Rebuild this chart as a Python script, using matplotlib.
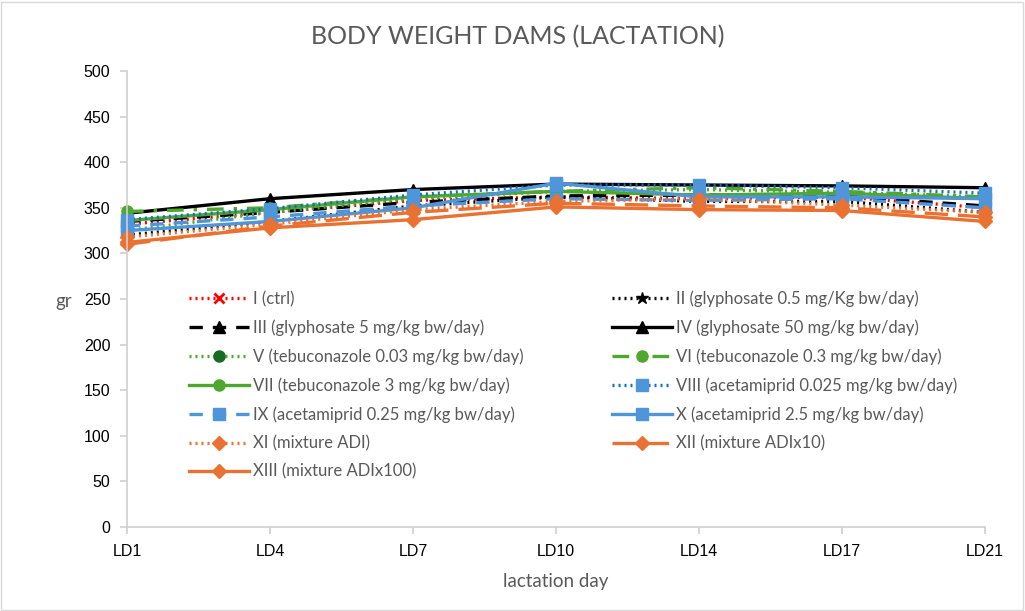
"""Body weight of dams over lactation, one line per treatment group."""
import matplotlib
matplotlib.use("Agg")
import matplotlib.pyplot as plt
from matplotlib.patches import Rectangle

plt.rcParams["font.family"] = ["Liberation Sans", "DejaVu Sans"]

days = ["LD1", "LD4", "LD7", "LD10", "LD14", "LD17", "LD21"]

labels = [
    "I (ctrl)",
    "II (glyphosate 0.5 mg/Kg bw/day)",
    "III (glyphosate 5 mg/kg bw/day)",
    "IV (glyphosate 50 mg/kg bw/day)",
    "V (tebuconazole 0.03 mg/kg bw/day)",
    "VI (tebuconazole 0.3 mg/kg bw/day)",
    "VII (tebuconazole 3 mg/kg bw/day)",
    "VIII (acetamiprid 0.025 mg/kg bw/day)",
    "IX (acetamiprid 0.25 mg/kg bw/day)",
    "X (acetamiprid 2.5 mg/kg bw/day)",
    "XI (mixture ADI)",
    "XII (mixture ADIx10)",
    "XIII (mixture ADIx100)",
]

# weights (gr)
g1 = [332, 345, 358, 362, 360, 362, 350]
g2 = [320, 335, 352, 362, 357, 357, 345]
g3 = [335, 345, 356, 363, 364, 363, 352]
g4 = [344, 360, 370, 376, 375, 374, 372]
g5 = [325, 345, 360, 368, 370, 367, 362]
g6 = [346, 350, 362, 368, 372, 368, 362]
g7 = [336, 348, 362, 368, 364, 366, 360]
g8 = [337, 349, 364, 375, 375, 372, 366]
g9 = [330, 340, 352, 360, 358, 360, 350]
g10 = [325, 335, 350, 377, 362, 362, 360]
g11 = [318, 332, 348, 357, 360, 353, 345]
g12 = [310, 330, 345, 355, 352, 350, 340]
g13 = [312, 328, 337, 351, 348, 347, 335]
groups = [g1, g2, g3, g4, g5, g6, g7, g8, g9, g10, g11, g12, g13]

RED = "#ff0000"
BLK = "#000000"
GRN = "#4ea72e"
DGRN = "#196b24"
BLU = "#4e95d9"
DBLU = "#0f6fc6"
ORG = "#e97132"

DOT = (0, (0.6, 1.2))
DASH = (0, (4, 3))
DASHDOT = (0, (5, 3, 1, 3))
LONG = (0, (7, 3))

# (line colour, linestyle, marker, marker colour, marker size)
styles = [
    (RED, DOT, "x", RED, 7),
    (BLK, DOT, "*", BLK, 9),
    (BLK, DASH, "^", BLK, 8),
    (BLK, "-", "^", BLK, 8),
    (GRN, DOT, "o", DGRN, 8),
    (GRN, DASHDOT, "o", GRN, 8),
    (GRN, "-", "o", GRN, 8),
    (DBLU, DOT, "s", BLU, 9),
    (BLU, DASH, "s", BLU, 9),
    (BLU, "-", "s", BLU, 9),
    (ORG, DOT, "D", ORG, 7),
    (ORG, LONG, "D", ORG, 7),
    (ORG, "-", "D", ORG, 7),
]

GRAY = "#595959"
AXGRAY = "#d0d0d0"
TXT = ["Lato", "DejaVu Sans"]

fig = plt.figure(figsize=(10.25, 6.11), dpi=100)
ax = fig.add_axes([127 / 1025, 1 - 527 / 611, 858 / 1025, 456 / 611])
x = range(len(days))

handles = []
for lab, ys, (c, ls, m, mc, ms) in zip(labels, groups, styles):
    h, = ax.plot(x, ys, color=c, ls=ls, lw=2.4, marker=m, ms=ms,
                 mfc=mc, mec=mc, mew=2 if m == "x" else 1,
                 label=lab, clip_on=False)
    handles.append(h)

ax.set_xlim(0, len(days) - 1)
ax.set_ylim(0, 500)
ax.set_yticks(range(0, 501, 50))
ax.set_xticks(list(x))
ax.set_xticklabels(days)
for s in ("top", "right"):
    ax.spines[s].set_visible(False)
for s in ("left", "bottom"):
    ax.spines[s].set_color(AXGRAY)
    ax.spines[s].set_linewidth(1.2)
ax.tick_params(axis="both", colors=AXGRAY, labelcolor="black",
               labelsize=11.5, length=5, width=1.2)
ax.tick_params(axis="x", pad=7)
ax.tick_params(axis="y", pad=7)

# Excel fills the legend row by row, matplotlib column by column
order = list(range(0, 13, 2)) + list(range(1, 13, 2))
leg = ax.legend([handles[i] for i in order], [labels[i] for i in order],
                ncol=2, loc="upper left", bbox_to_anchor=(0.055, 0.551),
                frameon=False, handlelength=3.6, handletextpad=0.25,
                columnspacing=5.3, labelspacing=0.74,
                prop={"family": TXT, "size": 12})
for t in leg.get_texts():
    t.set_color(GRAY)

fig.text(0.505, 0.94, "BODY WEIGHT DAMS (LACTATION)", ha="center", va="center",
         fontsize=18, color=GRAY, family=TXT)
fig.text(556 / 1025, 1 - 581 / 611, "lactation day", ha="center", va="center",
         fontsize=13.5, color=GRAY, family=TXT)
fig.text(64 / 1025, 1 - 301 / 611, "gr", ha="center", va="center",
         fontsize=13.5, color=GRAY, family=TXT)

fig.patches.append(Rectangle((0.001, 0.002), 0.997, 0.995, transform=fig.transFigure,
                             fill=False, ec="#d9d9d9", lw=1))

fig.savefig("out.png", dpi=100)
